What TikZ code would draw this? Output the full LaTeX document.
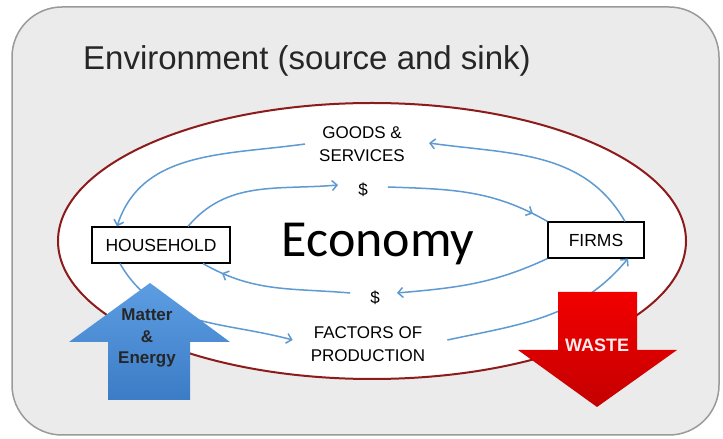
\documentclass[tikz,border=0pt]{standalone}
\usepackage{fontspec}
\setmainfont{Liberation Sans}
\newfontfamily\econfont{Carlito}
\usetikzlibrary{arrows.meta,calc,decorations.markings}
\definecolor{envgray}{HTML}{EBEBEB}
\definecolor{envline}{HTML}{9A9A9A}
\definecolor{ecored}{HTML}{8E1B1B}
\definecolor{flowblue}{HTML}{5E9BD2}
\definecolor{inblue}{HTML}{5C9DE2}
\definecolor{inbluedark}{HTML}{3C7CC6}
\definecolor{outred}{HTML}{F20000}
\definecolor{outreddark}{HTML}{C40000}
\tikzset{
  flow/.style={draw=flowblue,line width=1.5pt,-{Straight Barb[length=5pt,width=10pt]}},
  flowtip/.style={draw=flowblue,line width=1.5pt,postaction={decorate},
    decoration={markings,mark=at position #1 with {\arrow{Straight Barb[length=5pt,width=10pt]}}}},
  agent/.style={draw,line width=1.1pt,fill=white,minimum height=36pt,inner sep=0pt,
    font=\fontsize{17.5}{21}\selectfont},
  flowlabel/.style={align=center,inner sep=0pt,font=\fontsize{17}{23}\selectfont},
  biglabel/.style={align=center,inner sep=0pt,font=\bfseries\fontsize{17}{21.5}\selectfont}
}
\begin{document}
\begin{tikzpicture}[x=1pt,y=1pt]
\useasboundingbox (0,0) rectangle (723,439);
\fill[white] (0,0) rectangle (723,439);

% environment
\draw[envline,fill=envgray,line width=1.5pt,rounded corners=50pt] (12,4) rectangle (719,432);
\node[anchor=base west,inner sep=0pt,text=black!85,font=\fontsize{33}{40}\selectfont] (env) at (83,369)
  {Environment (source and sink)};

% economy
\draw[ecored,fill=white,line width=2pt] (372,198) ellipse [x radius=314pt,y radius=138pt];
\node[anchor=base,inner sep=0pt,font=\econfont\fontsize{52}{60}\selectfont] (economy) at (378,182) {Economy};
\node[agent,minimum width=138pt] (household) at (161,194) {HOUSEHOLD};
\node[agent,minimum width=96pt] (firms) at (596,199) {FIRMS};
\node[flowlabel] (goods) at (362,295) {GOODS \&\\SERVICES};
\node[flowlabel] (paytop) at (363,249) {\$};
\node[flowlabel] (paybottom) at (375,141) {\$};
\node[flowlabel] (factors) at (368,95) {FACTORS OF\\PRODUCTION};

% goods and services
\draw[flow] ([xshift=29pt]firms.north) to[out=120,in=-8] ($(goods.east)+(24,1)$);
\draw[flow] ($(goods.west)+(-14,0)$) to[out=188,in=72] ([xshift=-44pt]household.north);
% money
\draw[flow] ([xshift=27pt]household.north) to[out=50,in=185] ($(paytop.west)+(-20,5)$);
\draw[flowtip=0.9] ($(paytop.east)+(20,3)$) to[out=-2,in=150] (firms.north west);
\draw[flow] (firms.south west) to[out=205,in=5] ($(paybottom.east)+(17,5)$);
\draw[flowtip=0.86] ($(paybottom.west)+(-20,5)$) to[out=175,in=-30] ([xshift=42pt]household.south);
% factors of production
\draw[flow] ([xshift=-41pt]household.south) to[out=-60,in=165] ($(factors.west)+(-18,4)$);
\draw[flow] ($(factors.east)+(22,4)$) to[out=12,in=230] ([xshift=32pt]firms.south);

% matter and energy in, waste out
\shade[top color=inblue,bottom color=inbluedark] (150,156) -- (230,97) -- (190,97) -- (190,39)
  -- (108,39) -- (108,97) -- (69,97) -- cycle;
\node[biglabel,text=black!85] (matter) at (147,101) {Matter\\\&\\Energy};
\shade[top color=outred,bottom color=outreddark] (558,147) -- (637,147) -- (637,89) -- (677,89)
  -- (597,32) -- (518,89) -- (558,89) -- cycle;
\node[biglabel,text=red!8,font=\bfseries\fontsize{18}{21}\selectfont] (waste) at (597,94) {WASTE};
\end{tikzpicture}
\end{document}
